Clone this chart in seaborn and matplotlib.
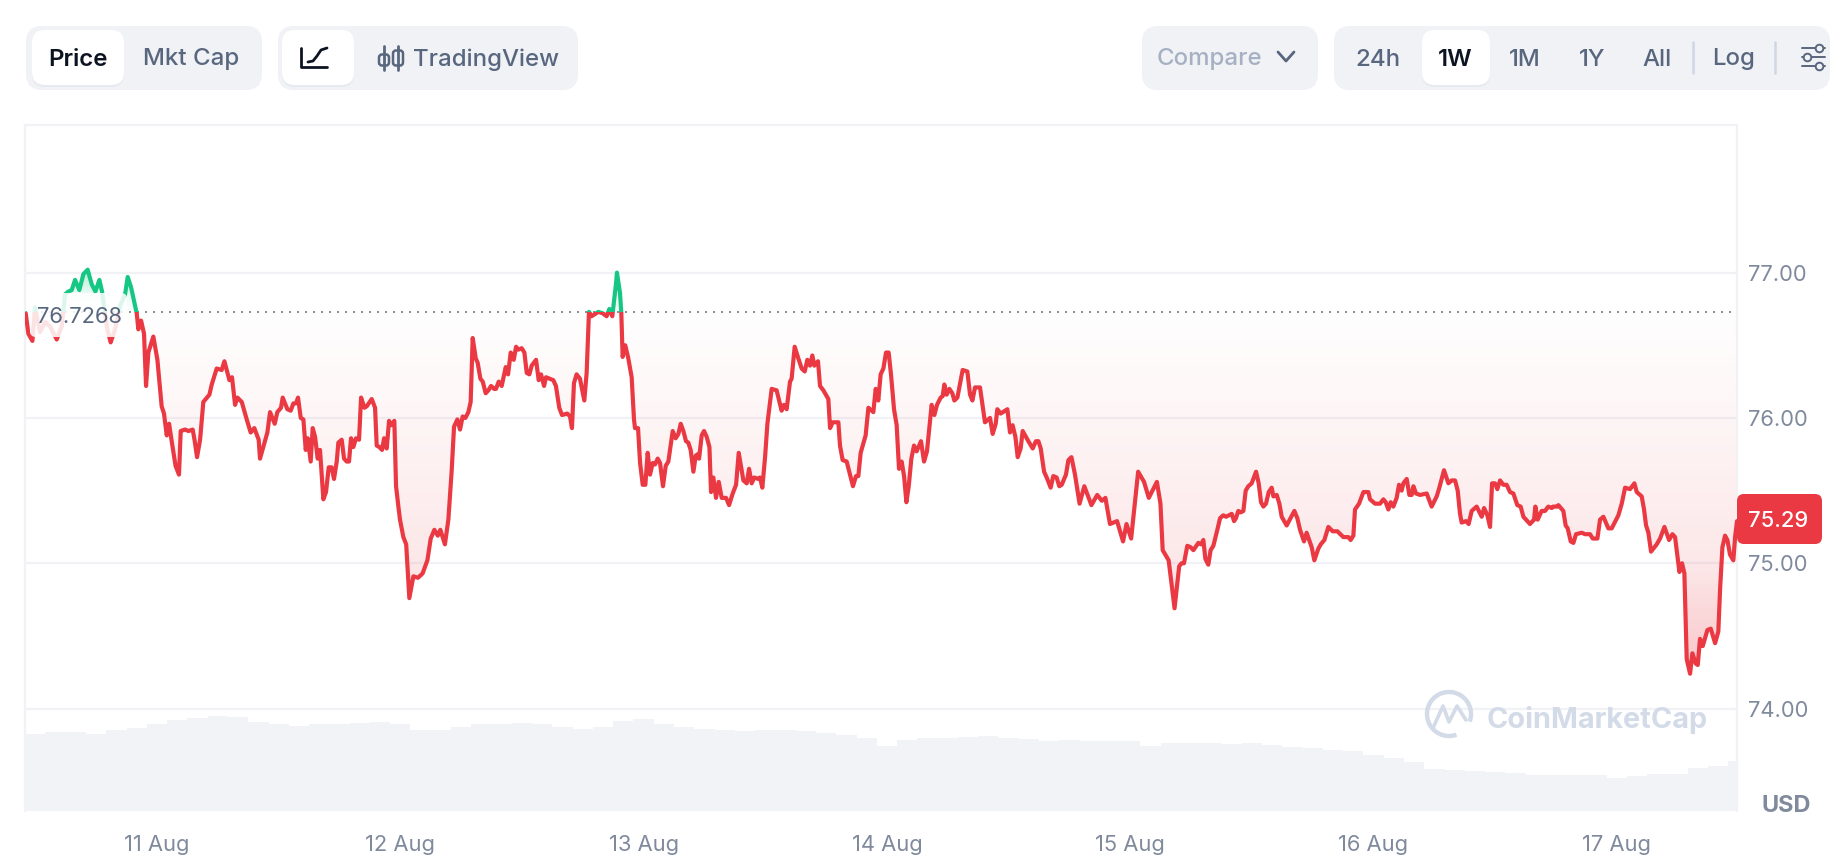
import numpy as np
import pandas as pd
import matplotlib
matplotlib.use("Agg")
import matplotlib.pyplot as plt
import matplotlib.patches as mpatches
import seaborn as sns

# hours since 10 Aug 00:00 and price in USD
hours = [
  11.05, 11.31, 11.71, 11.97, 12.46, 12.96, 13.45, 14.11, 14.6, 14.93, 15.26, 15.59,
  15.92, 16.34, 16.74, 17.16, 17.56, 17.92, 18.32, 18.58, 18.78, 19.1, 19.43, 19.86,
  20.35, 20.85, 21.11, 21.44, 22.0, 22.16, 22.43, 22.72, 22.92, 23.15, 23.64, 24.04,
  24.46, 24.69, 24.96, 25.19, 25.45, 25.83, 26.17, 26.34, 26.77, 27.1, 27.52, 27.7,
  27.95, 28.25, 28.57, 29.17, 29.4, 29.89, 30.38, 30.65, 31.14, 31.4, 31.7, 31.93,
  32.36, 32.85, 33.24, 33.6, 34.03, 34.16, 34.89, 35.15, 35.61, 35.87, 36.23, 36.4,
  36.86, 37.19, 37.45, 37.71, 37.91, 38.18, 38.44, 38.67, 38.87, 39.16, 39.36, 39.59,
  39.85, 40.08, 40.41, 40.67, 40.94, 41.23, 41.46, 41.73, 41.89, 42.22, 42.45, 42.71,
  42.94, 43.14, 43.37, 43.63, 43.93, 44.13, 44.46, 44.69, 45.18, 45.51, 45.67, 45.93,
  46.2, 46.4, 46.66, 46.89, 47.12, 47.41, 47.58, 47.81, 47.97, 48.3, 48.58, 48.89,
  49.29, 49.74, 50.2, 50.67, 51.0, 51.36, 51.7, 51.95, 52.4, 52.74, 53.07, 53.3,
  53.63, 53.89, 54.15, 54.42, 54.71, 54.94, 55.14, 55.44, 55.63, 55.9, 56.13, 56.42,
  56.69, 56.95, 57.25, 57.44, 57.71, 58.0, 58.4, 58.63, 58.89, 59.19, 59.42, 59.65,
  59.97, 60.24, 60.47, 60.73, 60.96, 61.39, 61.65, 61.88, 62.18, 62.37, 63.09, 63.35,
  63.68, 63.95, 64.47, 64.74, 64.93, 65.13, 65.39, 65.72, 66.15, 66.38, 66.61, 66.87,
  67.53, 67.96, 68.35, 68.62, 68.91, 69.27, 69.37, 69.67, 69.8, 69.93, 70.19, 70.49,
  70.82, 71.05, 71.15, 71.45, 71.65, 71.91, 72.17, 72.4, 72.63, 72.9, 73.13, 73.39,
  73.62, 73.91, 74.18, 74.44, 74.87, 75.16, 75.43, 75.66, 75.92, 76.18, 76.41, 76.64,
  76.91, 77.14, 77.33, 77.47, 77.73, 77.96, 78.22, 78.49, 78.65, 78.88, 79.14, 79.41,
  79.7, 80.13, 80.43, 80.79, 81.12, 81.38, 81.84, 82.17, 82.4, 82.66, 82.92, 83.32,
  83.48, 83.71, 83.98, 84.21, 84.63, 85.12, 85.61, 85.84, 86.11, 86.44, 86.6, 86.9,
  87.26, 87.59, 87.89, 88.15, 88.41, 88.64, 88.84, 89.2, 89.4, 89.73, 90.22, 90.39,
  90.65, 91.21, 91.37, 91.63, 92.03, 92.36, 92.65, 92.95, 93.18, 93.41, 93.9, 94.17,
  94.66, 94.89, 95.15, 95.38, 95.65, 95.91, 96.17, 96.4, 96.7, 96.96, 97.19, 97.45,
  97.69, 97.92, 98.15, 98.41, 98.67, 98.93, 99.36, 99.66, 99.95, 100.41, 100.68, 100.94,
  101.3, 101.5, 101.66, 101.89, 102.16, 102.45, 102.65, 102.95, 103.47, 103.93, 104.2, 104.43,
  104.69, 105.18, 105.67, 106.17, 106.43, 106.73, 106.89, 107.22, 107.88, 108.14, 108.4, 108.67,
  108.9, 109.19, 109.39, 109.95, 110.38, 110.7, 110.94, 111.17, 111.5, 111.76, 112.15, 112.41,
  112.74, 113.0, 113.24, 113.66, 113.9, 114.2, 114.55, 115.0, 115.47, 116.17, 116.74, 117.2,
  117.55, 118.0, 118.7, 119.29, 119.63, 120.09, 120.78, 121.36, 121.83, 122.63, 122.98, 123.2,
  123.79, 124.37, 124.83, 125.07, 125.3, 125.63, 125.96, 126.23, 126.72, 126.98, 127.21, 127.41,
  127.7, 127.93, 128.2, 128.59, 128.86, 129.18, 129.45, 130.01, 130.24, 130.43, 130.66, 130.89,
  131.16, 131.39, 131.65, 131.98, 132.41, 132.67, 132.9, 133.13, 133.39, 133.66, 133.95, 134.12,
  134.45, 134.71, 134.94, 135.43, 136.19, 136.48, 136.75, 137.14, 137.4, 137.9, 138.16, 138.55,
  138.79, 139.15, 139.54, 139.97, 140.43, 141.02, 141.51, 141.74, 142.01, 142.17, 142.57, 143.0,
  143.49, 143.65, 144.15, 144.64, 144.97, 145.2, 145.46, 145.69, 145.95, 146.28, 146.51, 146.77,
  146.94, 147.27, 147.53, 147.76, 147.93, 148.19, 148.58, 149.24, 149.73, 150.23, 150.49, 150.95,
  151.38, 151.71, 152.04, 152.3, 152.53, 152.69, 153.12, 153.38, 153.68, 154.17, 154.67, 154.9,
  155.23, 155.49, 155.69, 155.98, 156.21, 156.48, 156.8, 157.13, 157.46, 157.79, 158.18, 158.51,
  158.78, 159.43, 159.83, 159.96, 160.19, 160.58, 160.91, 161.24, 161.57, 161.73, 162.13, 162.23,
  162.72, 162.95, 163.15, 163.45, 163.71, 163.97, 164.53, 164.86, 165.35, 165.62, 166.08, 166.34,
  166.67, 167.16, 167.49, 168.15, 168.48, 168.81, 169.3, 169.73, 169.96, 170.45, 170.68, 170.88,
  171.11, 171.37, 171.93, 172.26, 172.69, 173.15, 173.48, 173.74, 174.17, 174.43, 174.66, 174.79,
  174.89, 175.22, 175.45, 175.78, 175.98, 176.2, 176.47, 176.93, 177.26, 177.69, 178.01, 178.18,
  178.41, 178.67, 178.9, 179.16, 179.49, 179.66, 179.85,
]
prices = [
  76.72, 76.58, 76.53, 76.76, 76.59, 76.66, 76.63, 76.54, 76.63, 76.85, 76.87, 76.88,
  76.95, 76.88, 76.99, 77.02, 76.92, 76.87, 76.95, 76.87, 76.77, 76.61, 76.52, 76.61,
  76.77, 76.85, 76.97, 76.90, 76.72, 76.61, 76.67, 76.58, 76.22, 76.45, 76.56, 76.40,
  76.08, 76.03, 75.88, 75.96, 75.84, 75.67, 75.61, 75.91, 75.92, 75.91, 75.92, 75.85,
  75.73, 75.85, 76.11, 76.16, 76.23, 76.34, 76.33, 76.39, 76.26, 76.28, 76.09, 76.14,
  76.11, 75.99, 75.90, 75.93, 75.85, 75.72, 75.90, 76.04, 75.96, 76.04, 76.07, 76.14,
  76.06, 76.05, 76.10, 76.10, 76.14, 76.00, 75.99, 75.78, 75.86, 75.70, 75.93, 75.87,
  75.72, 75.78, 75.44, 75.49, 75.66, 75.66, 75.58, 75.70, 75.83, 75.85, 75.72, 75.70,
  75.70, 75.86, 75.80, 75.86, 75.85, 76.14, 76.07, 76.08, 76.13, 76.07, 75.81, 75.80,
  75.78, 75.86, 75.79, 75.98, 75.95, 75.98, 75.53, 75.39, 75.30, 75.18, 75.13, 74.76,
  74.91, 74.90, 74.93, 75.02, 75.17, 75.23, 75.19, 75.23, 75.13, 75.30, 75.64, 75.94,
  75.99, 75.92, 76.01, 76.00, 76.04, 76.11, 76.55, 76.41, 76.38, 76.27, 76.25, 76.17,
  76.19, 76.22, 76.20, 76.20, 76.25, 76.22, 76.35, 76.30, 76.45, 76.40, 76.49, 76.47,
  76.48, 76.45, 76.31, 76.30, 76.36, 76.40, 76.26, 76.30, 76.22, 76.28, 76.26, 76.22,
  76.07, 76.02, 76.03, 76.01, 75.93, 76.24, 76.30, 76.27, 76.12, 76.31, 76.73, 76.70,
  76.73, 76.72, 76.70, 76.75, 76.70, 76.92, 77.00, 76.86, 76.72, 76.42, 76.50, 76.41,
  76.28, 75.99, 75.93, 75.93, 75.69, 75.54, 75.54, 75.76, 75.61, 75.69, 75.68, 75.72,
  75.69, 75.53, 75.67, 75.70, 75.91, 75.86, 75.89, 75.96, 75.91, 75.84, 75.83, 75.78,
  75.63, 75.74, 75.75, 75.72, 75.88, 75.91, 75.87, 75.80, 75.49, 75.59, 75.45, 75.56,
  75.45, 75.45, 75.40, 75.48, 75.54, 75.76, 75.57, 75.55, 75.65, 75.55, 75.59, 75.58,
  75.59, 75.52, 75.73, 75.96, 76.20, 76.19, 76.05, 76.09, 76.06, 76.25, 76.27, 76.49,
  76.41, 76.34, 76.32, 76.40, 76.36, 76.43, 76.36, 76.39, 76.22, 76.19, 76.13, 75.93,
  75.97, 75.97, 75.81, 75.71, 75.70, 75.61, 75.53, 75.60, 75.60, 75.76, 75.88, 76.07,
  76.04, 76.20, 76.12, 76.30, 76.34, 76.45, 76.45, 76.30, 76.06, 75.95, 75.65, 75.70,
  75.60, 75.42, 75.53, 75.72, 75.81, 75.77, 75.84, 75.70, 75.77, 76.09, 76.02, 76.09,
  76.14, 76.15, 76.23, 76.16, 76.20, 76.17, 76.12, 76.14, 76.33, 76.32, 76.16, 76.12,
  76.21, 76.21, 75.97, 76.00, 75.89, 75.96, 76.06, 76.03, 76.06, 75.90, 75.95, 75.87,
  75.73, 75.79, 75.91, 75.84, 75.79, 75.84, 75.84, 75.79, 75.63, 75.59, 75.52, 75.60,
  75.59, 75.53, 75.54, 75.61, 75.71, 75.73, 75.61, 75.41, 75.53, 75.40, 75.47, 75.43,
  75.45, 75.27, 75.29, 75.15, 75.27, 75.17, 75.63, 75.56, 75.45, 75.56, 75.41, 75.09,
  75.02, 74.69, 74.98, 75.00, 75.00, 75.12, 75.11, 75.09, 75.14, 75.13, 75.16, 75.03,
  74.99, 75.09, 75.12, 75.23, 75.31, 75.33, 75.32, 75.34, 75.29, 75.31, 75.36, 75.35,
  75.36, 75.50, 75.53, 75.55, 75.63, 75.55, 75.42, 75.39, 75.41, 75.49, 75.52, 75.46,
  75.47, 75.41, 75.32, 75.26, 75.36, 75.31, 75.23, 75.15, 75.21, 75.11, 75.02, 75.10,
  75.13, 75.16, 75.25, 75.22, 75.22, 75.18, 75.18, 75.16, 75.19, 75.37, 75.41, 75.49,
  75.49, 75.44, 75.41, 75.41, 75.44, 75.42, 75.37, 75.42, 75.39, 75.45, 75.54, 75.50,
  75.55, 75.58, 75.47, 75.47, 75.53, 75.48, 75.47, 75.48, 75.39, 75.46, 75.52, 75.64,
  75.55, 75.57, 75.57, 75.50, 75.34, 75.28, 75.29, 75.27, 75.36, 75.39, 75.32, 75.38,
  75.33, 75.25, 75.55, 75.55, 75.51, 75.57, 75.54, 75.54, 75.49, 75.48, 75.40, 75.39,
  75.32, 75.27, 75.30, 75.39, 75.30, 75.36, 75.36, 75.39, 75.38, 75.39, 75.39, 75.40,
  75.36, 75.26, 75.24, 75.15, 75.14, 75.20, 75.21, 75.20, 75.20, 75.17, 75.17, 75.30,
  75.32, 75.24, 75.24, 75.33, 75.41, 75.52, 75.51, 75.55, 75.49, 75.46, 75.37, 75.26,
  75.21, 75.08, 75.13, 75.17, 75.25, 75.16, 75.20, 75.18, 74.94, 75.00, 74.93, 74.61,
  74.34, 74.24, 74.38, 74.31, 74.30, 74.48, 74.43, 74.54, 74.55, 74.45, 74.53, 74.82,
  75.11, 75.19, 75.16, 75.06, 75.02, 75.18, 75.29,
]
baseline = 76.7268
last_price = 75.29

# relative volume, one bar every two hours
volume_hours = list(range(12, 181, 2))
volume = [
  77, 79, 79, 77, 81, 83, 87, 91, 93, 95, 94, 89, 87, 85, 87, 87, 88, 89, 87, 81, 81, 84,
  87, 87, 88, 87, 84, 82, 84, 90, 92, 87, 84, 82, 81, 80, 81, 81, 80, 78, 76, 73, 65, 71,
  73, 73, 74, 75, 73, 72, 70, 71, 70, 70, 70, 65, 68, 68, 68, 67, 68, 66, 64, 63, 61, 60,
  56, 53, 49, 42, 41, 40, 39, 38, 36, 36, 36, 36, 33, 35, 37, 37, 43, 45, 50,
]

price_ticks = [74, 75, 76, 77]
price_labels = ["74.00", "75.00", "76.00", "77.00"]
day_ticks = [24, 48, 72, 96, 120, 144, 168]
day_labels = ["11 Aug", "12 Aug", "13 Aug", "14 Aug", "15 Aug", "16 Aug", "17 Aug"]

RED = "#ea3943"
GREEN = "#16c784"
PANEL = "#f0f2f6"
BARS = "#f2f3f7"
TXT = "#58667e"
MUTED = "#808a9d"
DARK = "#0d1421"
WM = "#d3dbe8"

sns.set_theme(style="white")
plt.rcParams["font.family"] = ["Inter", "DejaVu Sans"]

W, H = 1836, 864
fig = plt.figure(figsize=(W / 100, H / 100), dpi=100)
L, T, R, B = 25, 125, 1737, 811
ax = fig.add_axes([L / W, 1 - B / H, (R - L) / W, (B - T) / H])

df = pd.DataFrame({"hour": hours, "price": prices})
xlim = (10.98, 179.85)
ylim = (73.295, 78.016)

# gradient fill between price line and the opening price
poly = ax.fill_between(hours, prices, baseline)
area = poly.get_paths()[0]
poly.remove()
ys = np.linspace(ylim[0], ylim[1], 500)
red_a = np.interp(ys, [74.2, 75, 76, baseline], [0.3, 0.12, 0.05, 0.005])
red_a[ys > baseline] = 0
green_a = np.interp(ys, [baseline, 76.85, 77.02], [0.02, 0.08, 0.32])
green_a[ys < baseline] = 0
for col, a in [(RED, red_a), (GREEN, green_a)]:
  img = np.zeros((500, 1, 4))
  img[:, 0, :3] = matplotlib.colors.to_rgb(col)
  img[:, 0, 3] = a
  im = ax.imshow(img, origin="lower", aspect="auto", zorder=1, interpolation="nearest",
                 extent=[xlim[0], xlim[1], ylim[0], ylim[1]])
  im.set_clip_path(area, transform=ax.transData)

# line, green above the opening price and red below it
for col, rect in [
  (GREEN, mpatches.Rectangle((xlim[0], baseline), 200, 5, transform=ax.transData)),
  (RED, mpatches.Rectangle((xlim[0], 70), 200, baseline - 70, transform=ax.transData)),
]:
  sns.lineplot(data=df, x="hour", y="price", color=col, linewidth=3, estimator=None,
               sort=False, ax=ax, zorder=3)
  ln = ax.lines[-1]
  ln.set_solid_joinstyle("round")
  ln.set_clip_path(rect)

ax.axhline(baseline, color="#8a8f99", lw=1.44, ls=(0, (1, 3)), zorder=2)

vax = ax.twinx()
sns.barplot(x=volume_hours, y=volume, native_scale=True, width=1, color=BARS, saturation=1,
            linewidth=0, ax=vax)
vax.set_ylim(0, B - T)
vax.set_yticks([])
vax.set_ylabel("")
vax.grid(False)
for s in vax.spines.values():
  s.set_visible(False)

ax.set_xlim(*xlim)
ax.set_ylim(*ylim)
ax.set(xlabel="", ylabel="")
ax.set_xticks(day_ticks, day_labels)
ax.set_yticks(price_ticks, price_labels)
ax.yaxis.tick_right()
ax.tick_params(axis="x", length=0, pad=17, labelsize=15.8, labelcolor=MUTED)
ax.tick_params(axis="y", length=0, pad=8, labelsize=15.8, labelcolor=MUTED)
ax.grid(axis="y", color=PANEL, lw=1.6)
ax.grid(axis="x", visible=False)
ax.set_axisbelow(True)
for name, s in ax.spines.items():
  s.set_visible(name != "bottom")
  s.set_color(PANEL)
  s.set_linewidth(1.6)

# everything around the plot is laid out in image pixels
ui = fig.add_axes([0, 0, 1, 1], zorder=5)
ui.set_xlim(0, W)
ui.set_ylim(H, 0)
ui.axis("off")
ui.patch.set_alpha(0)


def box(x0, y0, x1, y1, color, r=14, **kw):
  ui.add_patch(mpatches.FancyBboxPatch(
    (x0 + r, y0 + r), x1 - x0 - 2 * r, y1 - y0 - 2 * r,
    boxstyle=f"round,pad={r},rounding_size={r}", fc=color, ec="none", **kw))


def label(x, y, s, color=TXT, size=17.3, weight="medium", ha="center"):
  ui.text(x, y, s, color=color, fontsize=size, fontweight=weight, ha=ha, va="center_baseline")


# toolbar
box(26, 26, 262, 90, PANEL, r=16)
box(32, 31, 124, 87, "#e6e9ef", r=13)
box(32, 30, 124, 85, "white", r=13)
label(78, 57, "Price", DARK, weight="semibold")
label(191, 57, "Mkt Cap")

box(278, 26, 578, 90, PANEL, r=16)
box(282, 31, 354, 87, "#e6e9ef", r=13)
box(282, 30, 354, 85, "white", r=13)
ui.plot([301, 301, 327], [48, 67, 67], color=DARK, lw=2, solid_capstyle="round", solid_joinstyle="round")
ui.plot([308, 313, 317, 321, 327], [62, 61, 56, 50, 48], color=DARK, lw=2, solid_capstyle="round")
for cx, b0, b1 in [(384, 54, 66), (398, 50, 66)]:
  ui.plot([cx, cx], [46, 70], color=TXT, lw=2)
  ui.add_patch(mpatches.FancyBboxPatch((cx - 3.5, b0 + 2), 7, b1 - b0 - 4,
               boxstyle="round,pad=1.5,rounding_size=3", fc=PANEL, ec=TXT, lw=1.8))
label(486, 57, "TradingView")

box(1142, 26, 1318, 90, PANEL, r=16)
label(1209, 57, "Compare", "#a6b0c3")
ui.plot([1278, 1286, 1294], [52, 61, 52], color=TXT, lw=2, solid_capstyle="round", solid_joinstyle="round")

box(1334, 26, 1830, 90, PANEL, r=16)
box(1422, 31, 1490, 87, "#e6e9ef", r=13)
box(1422, 30, 1490, 85, "white", r=13)
label(1378, 57, "24h")
label(1455, 57, "1W", DARK, weight="semibold")
label(1525, 57, "1M")
label(1592, 57, "1Y")
label(1657, 57, "All")
label(1734, 57, "Log")
for sx in [1693, 1775]:
  ui.plot([sx, sx], [42, 73], color="#cfd6e4", lw=1.8)
for sy, kx in [(48, 1819), (57, 1807), (66, 1819)]:
  ui.plot([1802, 1825], [sy, sy], color=TXT, lw=1.4)
  ui.plot([kx], [sy], "o", ms=5.5, mfc=PANEL, mec=TXT, mew=1.4)

# opening price tag over the line
box(30, 293, 127, 337, (1, 1, 1, 0.86), r=6)
label(80, 315, "76.7268", TXT, size=15.8, weight="normal")

# last price tag and currency
box(1737, 494, 1822, 544, RED, r=7)
label(1778, 519, f"{last_price:.2f}", "white", size=15.8, weight="medium")
label(1786, 803, "USD", MUTED, size=17, weight="bold")

# watermark
ui.add_patch(mpatches.Arc((1449, 714), 44, 44, theta1=70, theta2=380, color=WM, lw=3.2))
ui.plot([1433, 1443, 1449, 1457, 1466], [728, 706, 722, 706, 720], color=WM, lw=2.6,
        solid_capstyle="round", solid_joinstyle="round")
label(1597, 717, "CoinMarketCap", WM, size=20.8, weight="bold")

fig.savefig("out.png", dpi=100, facecolor="white")
